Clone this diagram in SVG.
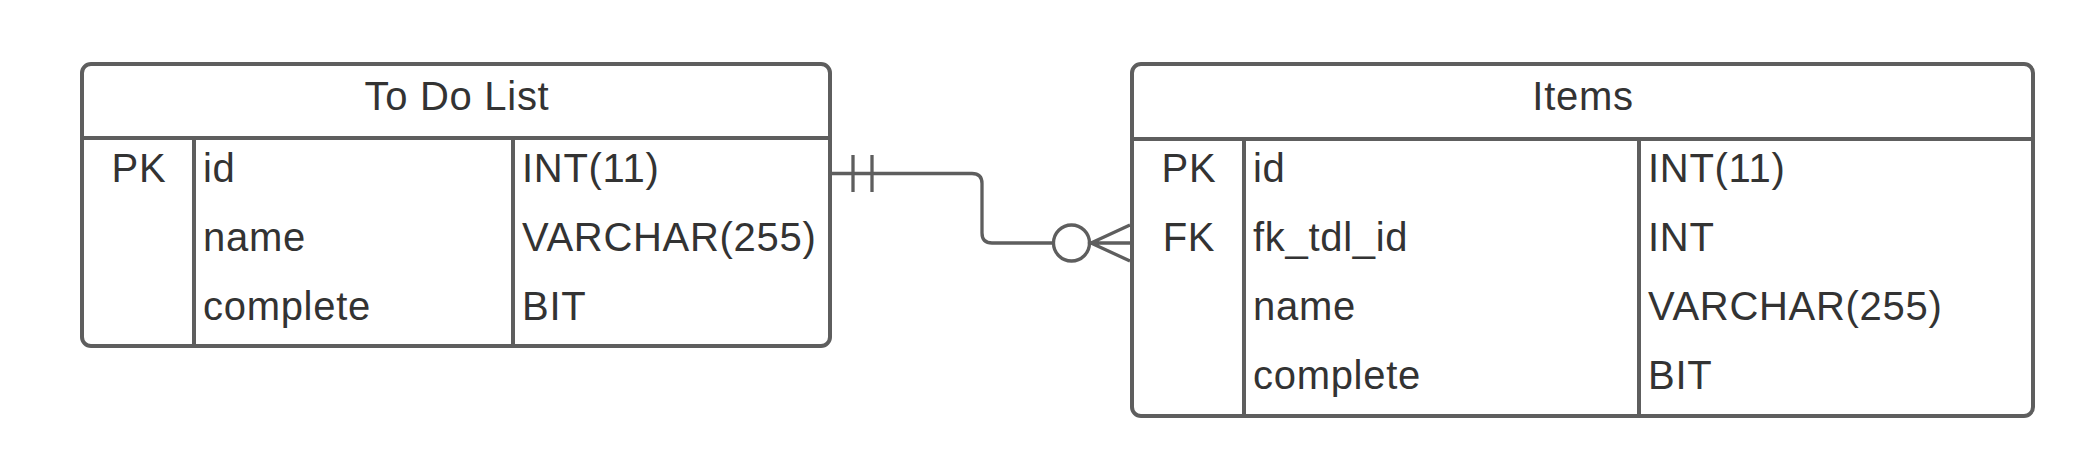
<svg xmlns="http://www.w3.org/2000/svg" width="2100" height="462" viewBox="0 0 2100 462">
<style>
.box{fill:#fff;stroke:#5e5e5e;stroke-width:4}
.ln{stroke:#5e5e5e;stroke-width:4;fill:none}
.cn{stroke:#5e5e5e;stroke-width:3.3;fill:none}
text{font-family:"Liberation Sans",Arial,sans-serif;font-size:40px;letter-spacing:0.7px;fill:#333}
.c{text-anchor:middle}
</style>
<rect width="2100" height="462" fill="#fff"/>
<g id="todolist">
<rect class="box" x="82" y="64" width="748" height="282" rx="9"/>
<line class="ln" x1="82" y1="138" x2="830" y2="138"/>
<line class="ln" x1="194" y1="138" x2="194" y2="346"/>
<line class="ln" x1="513" y1="138" x2="513" y2="346"/>
<text class="c" x="457" y="110">To Do List</text>
<text class="c" x="139" y="182">PK</text>
<text x="203" y="182">id</text>
<text x="203" y="251">name</text>
<text x="203" y="320">complete</text>
<text x="522" y="182">INT(11)</text>
<text x="522" y="251">VARCHAR(255)</text>
<text x="522" y="320">BIT</text>
</g>
<g id="items">
<rect class="box" x="1132" y="64" width="901" height="352" rx="9"/>
<line class="ln" x1="1132" y1="139" x2="2033" y2="139"/>
<line class="ln" x1="1244" y1="139" x2="1244" y2="416"/>
<line class="ln" x1="1639" y1="139" x2="1639" y2="416"/>
<text class="c" x="1583" y="110">Items</text>
<text class="c" x="1189" y="182">PK</text>
<text class="c" x="1189" y="251">FK</text>
<text x="1253" y="182">id</text>
<text x="1253" y="251">fk_tdl_id</text>
<text x="1253" y="320">name</text>
<text x="1253" y="389">complete</text>
<text x="1648" y="182">INT(11)</text>
<text x="1648" y="251">INT</text>
<text x="1648" y="320">VARCHAR(255)</text>
<text x="1648" y="389">BIT</text>
</g>
<g id="connectors">
<path class="cn" d="M832 173.5 H972 Q982 173.5 982 183.5 V233 Q982 243 992 243 H1053"/>
<line class="cn" x1="853" y1="155" x2="853" y2="192"/>
<line class="cn" x1="872" y1="155" x2="872" y2="192"/>
<circle class="cn" cx="1071.5" cy="243" r="18"/>
<path class="cn" d="M1130 225 L1091 243 L1130 261 M1091 243 H1130"/>
</g>
</svg>
